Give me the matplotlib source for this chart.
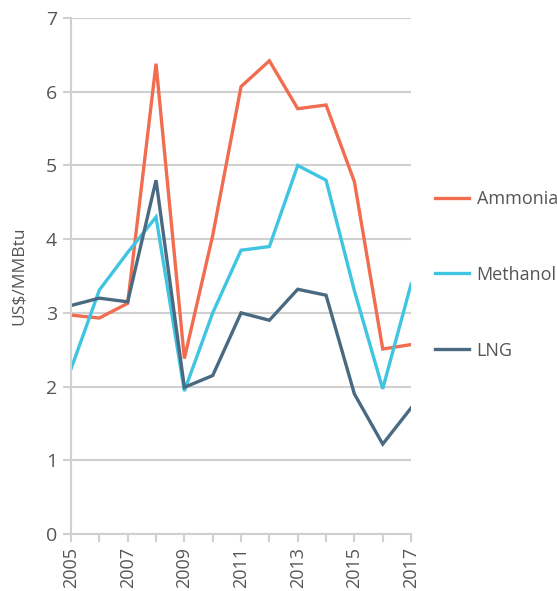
import matplotlib

matplotlib.use("Agg")
import matplotlib.pyplot as plt

plt.rcParams["font.family"] = ["Open Sans", "DejaVu Sans"]

years = list(range(2005, 2018))
ammonia = [2.97, 2.93, 3.13, 6.38, 2.38, 4.05, 6.07, 6.42, 5.77, 5.82, 4.78, 2.51, 2.57]
methanol = [2.24, 3.31, 3.82, 4.30, 1.94, 3.00, 3.85, 3.90, 5.00, 4.80, 3.30, 1.97, 3.39]
lng = [3.10, 3.20, 3.15, 4.80, 1.99, 2.15, 3.00, 2.90, 3.32, 3.24, 1.90, 1.22, 1.71]

series = [("Ammonia", ammonia, "#f26c50"),
          ("Methanol", methanol, "#3fc5e1"),
          ("LNG", lng, "#4a6a82")]

TXT = "#555555"
GRID = "#d0d0d0"

fig = plt.figure(figsize=(5.57, 5.91), dpi=100)
ax = fig.add_axes([0.1275, 0.0964, 0.6105, 0.8731])

for name, vals, col in series:
    ax.plot(years, vals, color=col, lw=2.4, label=name, solid_joinstyle="miter")

ax.set_xlim(2005, 2017)
ax.set_ylim(0, 7)
ax.set_yticks(range(0, 8))
ax.set_xticks(years)
ax.set_xticklabels([str(y) if (y - 2005) % 2 == 0 else "" for y in years],
                   rotation=90, fontsize=13, color=TXT)
ax.tick_params(axis="y", labelsize=14, labelcolor=TXT, color=GRID, length=6, width=1.5, pad=4)
ax.tick_params(axis="x", color=GRID, length=6, width=1.5, pad=3)
ax.yaxis.grid(True, color=GRID, lw=1.5)
ax.set_axisbelow(True)
for s in ("top", "right"):
    ax.spines[s].set_visible(False)
for s in ("left", "bottom"):
    ax.spines[s].set_color(GRID)
    ax.spines[s].set_linewidth(1.5)
ax.set_ylabel("US$/MMBtu", fontsize=12.5, color=TXT)
ax.yaxis.set_label_coords(-0.13, 0.5)

leg = fig.legend(loc="center left", bbox_to_anchor=(0.781, 0.535), frameon=False,
                 fontsize=13, labelspacing=3.2, handlelength=1.9, handletextpad=0.4,
                 borderpad=0, borderaxespad=0)
for t in leg.get_texts():
    t.set_color(TXT)

fig.savefig("out.png", dpi=100)
